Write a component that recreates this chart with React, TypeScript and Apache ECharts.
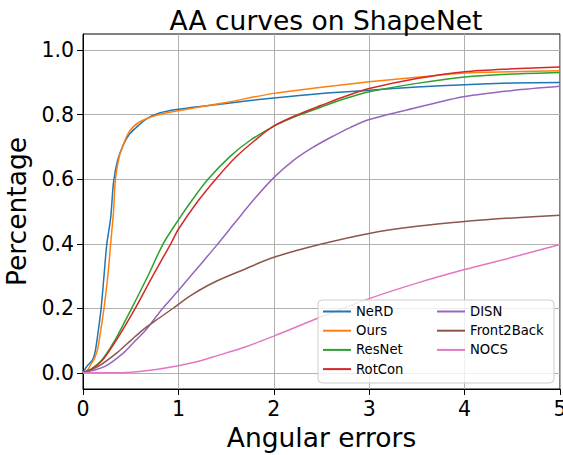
import React, { useEffect, useRef } from "react";
import * as echarts from "echarts";

const titleText = "AA curves on ShapeNet";
const xName = "Angular errors";
const yName = "Percentage";
const xTicks = [0, 1, 2, 3, 4, 5];
const yTicks = [0, 0.2, 0.4, 0.6, 0.8, 1.0];

const seriesNames = ["NeRD", "Ours", "ResNet", "RotCon", "DISN", "Front2Back", "NOCS"];
const seriesColors = ["#1f77b4", "#ff7f0e", "#2ca02c", "#d62728", "#9467bd", "#8c564b", "#e377c2"];

const nerd = [
  [0, 0], [0.04, 0.02], [0.1, 0.04], [0.13, 0.07], [0.16, 0.13], [0.19, 0.2], [0.22, 0.3],
  [0.25, 0.4], [0.29, 0.48], [0.32, 0.59], [0.36, 0.655], [0.42, 0.705], [0.48, 0.737],
  [0.55, 0.758], [0.67, 0.788], [0.81, 0.806], [1, 0.817], [1.5, 0.835], [2, 0.852],
  [2.5, 0.866], [3, 0.876], [3.5, 0.886], [4, 0.893], [4.5, 0.898], [5, 0.9],
];
const ours = [
  [0, 0], [0.05, 0.01], [0.09, 0.03], [0.12, 0.045], [0.15, 0.07], [0.18, 0.12], [0.22, 0.2],
  [0.26, 0.3], [0.29, 0.4], [0.32, 0.5], [0.34, 0.6], [0.38, 0.67], [0.42, 0.705], [0.48, 0.745],
  [0.58, 0.775], [0.77, 0.798], [1, 0.812], [1.5, 0.838], [2, 0.866], [2.5, 0.885], [3, 0.902],
  [3.5, 0.916], [4, 0.929], [4.5, 0.933], [5, 0.936],
];
const resnet = [
  [0, 0], [0.1, 0.015], [0.2, 0.041], [0.34, 0.104], [0.51, 0.2], [0.68, 0.3], [0.84, 0.4],
  [1.0, 0.474], [1.15, 0.538], [1.31, 0.6], [1.54, 0.67], [1.75, 0.72], [2, 0.764],
  [2.25, 0.797], [2.5, 0.824], [2.75, 0.85], [3, 0.871], [3.5, 0.897], [4, 0.917],
  [4.5, 0.926], [5, 0.931],
];
const rotcon = [
  [0, 0], [0.1, 0.013], [0.21, 0.041], [0.355, 0.104], [0.547, 0.2], [0.73, 0.3],
  [0.92, 0.4], [1.0, 0.445], [1.2, 0.53], [1.4, 0.603], [1.6, 0.668], [1.8, 0.72],
  [2, 0.765], [2.25, 0.8], [2.5, 0.829], [2.75, 0.857], [3, 0.881], [3.5, 0.912],
  [4, 0.933], [4.5, 0.942], [5, 0.948],
];
const disn = [
  [0, 0], [0.23, 0.02], [0.425, 0.062], [0.55, 0.1], [0.67, 0.137], [0.83, 0.198],
  [1.0, 0.255], [1.2, 0.325], [1.4, 0.395], [1.6, 0.468], [1.8, 0.54], [2.0, 0.605],
  [2.2, 0.657], [2.4, 0.697], [2.6, 0.73], [2.8, 0.76], [3, 0.785], [3.5, 0.822],
  [4, 0.856], [4.5, 0.875], [5, 0.888],
];
const front2back = [
  [0, 0], [0.16, 0.02], [0.355, 0.062], [0.5, 0.1], [0.634, 0.135], [0.8, 0.17],
  [0.948, 0.201], [1.12, 0.238], [1.37, 0.28], [1.7, 0.322], [2, 0.358], [2.5, 0.399],
  [3, 0.432], [3.5, 0.454], [4, 0.469], [4.5, 0.48], [5, 0.488],
];
const nocs = [
  [0, 0], [0.3, 0], [0.5, 0.002], [0.75, 0.01], [1.0, 0.022], [1.2, 0.035], [1.37, 0.05],
  [1.7, 0.08], [2, 0.114], [2.5, 0.174], [3, 0.23], [3.5, 0.278], [4, 0.32], [4.5, 0.358],
  [5, 0.398],
];

const seriesData = [nerd, ours, resnet, rotcon, disn, front2back, nocs];

const FONT = "DejaVu Sans";

export default function App() {
  const ref = useRef<HTMLDivElement>(null);
  useEffect(() => {
    if (!ref.current) return;
    const chart = echarts.init(ref.current, null, { renderer: "svg" });
    const legendText = { fontFamily: FONT, fontSize: 13.2, color: "#000", lineHeight: 14 };
    chart.setOption({
      animation: false,
      backgroundColor: "#fff",
      title: {
        text: titleText,
        left: 321,
        textAlign: "center",
        top: 2,
        textStyle: { fontFamily: FONT, fontSize: 26.5, fontWeight: "normal", color: "#000" },
      },
      grid: {
        left: 83,
        right: 3,
        top: 34,
        bottom: 66,
        outerBoundsMode: "none",
        containLabel: false,
        show: true,
        borderColor: "#000",
        borderWidth: 1,
        backgroundColor: "transparent",
      },
      xAxis: {
        type: "value",
        min: xTicks[0],
        max: xTicks[xTicks.length - 1],
        interval: 1,
        name: xName,
        nameLocation: "middle",
        nameGap: 33,
        nameTextStyle: { fontFamily: FONT, fontSize: 26.5, color: "#000" },
        axisLine: { show: true, onZero: false, lineStyle: { color: "#000", width: 1 } },
        axisTick: { show: true, length: 6, lineStyle: { color: "#000", width: 1 } },
        axisLabel: { fontFamily: FONT, fontSize: 20.5, color: "#000", margin: 9 },
        splitLine: { show: true, lineStyle: { color: "#b0b0b0", width: 1 } },
      },
      yAxis: {
        type: "value",
        min: -0.05,
        max: 1.05,
        name: yName,
        nameLocation: "middle",
        nameGap: 52,
        nameTextStyle: { fontFamily: FONT, fontSize: 26.5, color: "#000" },
        axisLine: { show: true, onZero: false, lineStyle: { color: "#000", width: 1 } },
        axisTick: { show: true, length: 6, customValues: yTicks, lineStyle: { color: "#000", width: 1 } },
        axisLabel: {
          fontFamily: FONT,
          fontSize: 20.5,
          color: "#000",
          margin: 9,
          customValues: yTicks,
          formatter: (v: number) => v.toFixed(1),
        },
        splitLine: { show: true, lineStyle: { color: "#b0b0b0", width: 1 } },
      },
      legend: [
        {
          data: seriesNames.slice(0, 4),
          orient: "vertical",
          left: 323,
          top: 304.5,
          itemWidth: 28,
          itemHeight: 2,
          itemGap: 5.2,
          icon: "rect",
          padding: 0,
          textStyle: legendText,
          z: 5,
        },
        {
          data: seriesNames.slice(4),
          orient: "vertical",
          left: 437,
          top: 304.5,
          itemWidth: 28,
          itemHeight: 2,
          itemGap: 5.2,
          icon: "rect",
          padding: 0,
          textStyle: legendText,
          z: 5,
        },
      ],
      graphic: [
        {
          type: "rect",
          z: 4,
          shape: { x: 318, y: 300, width: 236, height: 83, r: 4 },
          style: { fill: "rgba(255,255,255,0.8)", stroke: "#cccccc", lineWidth: 1 },
        },
      ],
      series: seriesNames.map((name, i) => ({
        name,
        type: "line",
        data: seriesData[i],
        showSymbol: false,
        symbol: "none",
        smooth: 0.3,
        lineStyle: { color: seriesColors[i], width: 1.5 },
        itemStyle: { color: seriesColors[i] },
        z: 2,
      })),
    });
    return () => chart.dispose();
  }, []);
  return (
    <div
      ref={ref}
      style={{ position: "fixed", left: 0, top: 0, width: 563, height: 455 }}
    />
  );
}
